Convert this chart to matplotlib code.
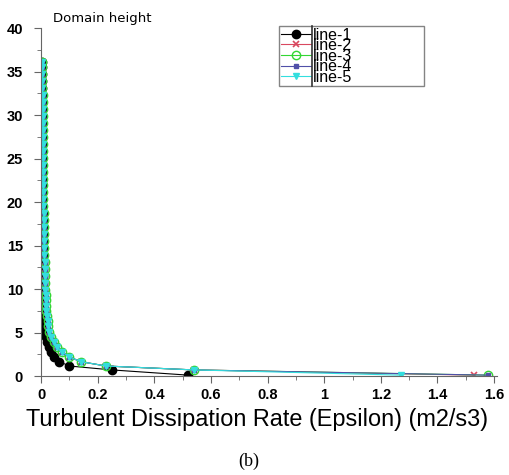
import matplotlib
matplotlib.use("Agg")
import matplotlib.pyplot as plt
from matplotlib.ticker import MultipleLocator
from matplotlib.lines import Line2D

# heights (m) of the profile points
heights = [0.1, 0.7, 1.15, 1.65, 2.2, 2.75, 3.3, 3.9, 4.5, 5.1, 5.7, 6.3, 6.9,
           7.5, 8.1, 8.7, 9.3, 9.9, 10.7, 11.5, 12.3, 13.1, 13.9, 14.7, 15.5,
           16.3, 17.1, 17.9, 18.7, 19.5, 20.3, 21.1, 21.9, 22.7, 23.5, 24.3,
           25.1, 25.9, 26.7, 27.5, 28.3, 29.1, 29.9, 30.7, 31.5, 32.3, 33.1,
           33.9, 34.7, 35.5, 36.1]

# epsilon (lines 2-5 overlap above the first point)
eps_upper = [0.54, 0.23, 0.14, 0.10, 0.075, 0.058, 0.045, 0.037, 0.030,
             0.026, 0.023, 0.021, 0.019, 0.018, 0.017, 0.016, 0.015, 0.014,
             0.0135, 0.013, 0.0125, 0.012, 0.0115, 0.011, 0.0105, 0.010,
             0.0095, 0.009, 0.0088, 0.0085, 0.0082, 0.008, 0.0077, 0.0075,
             0.0072, 0.007, 0.0068, 0.0066, 0.0064, 0.0062, 0.006, 0.0058,
             0.0056, 0.0055, 0.0054, 0.0052, 0.0051, 0.005, 0.0049, 0.0048]

line1 = [0.52, 0.25, 0.10, 0.065, 0.045, 0.035, 0.027, 0.021, 0.017, 0.014,
         0.012, 0.010, 0.0095, 0.009, 0.0085, 0.008, 0.0078, 0.0075, 0.0072,
         0.007, 0.0068, 0.0066, 0.0064, 0.0062, 0.006, 0.0058, 0.0056,
         0.0055, 0.0054, 0.0052, 0.0051, 0.005, 0.0049, 0.0048, 0.0047,
         0.0046, 0.0045, 0.0044, 0.0043, 0.0042, 0.0041, 0.004, 0.0039,
         0.0038, 0.0037, 0.0036, 0.0035, 0.0034, 0.0033, 0.0032, 0.0031]

first_points = {'line-2': 1.53, 'line-3': 1.58, 'line-4': 1.58, 'line-5': 1.27}

styles = {
    'line-1': dict(color='black', marker='o', ms=6, mfc='black', mec='black'),
    'line-2': dict(color='#d9485f', marker='x', ms=5, mew=1.2),
    'line-3': dict(color='#33d633', marker='o', ms=6, mfc='none', mew=1.0),
    'line-4': dict(color='#5050a8', marker='s', ms=3.5, mfc='#5050a8'),
    'line-5': dict(color='#33dede', marker='v', ms=5, mfc='#33dede'),
}

fig = plt.figure(figsize=(5.1, 4.75), dpi=100)
ax = fig.add_axes([0.0804, 0.2084, 0.894, 0.7326])

ax.plot(line1, heights, lw=0.8, label='line-1', **styles['line-1'])
for name in ['line-2', 'line-3', 'line-4', 'line-5']:
    xs = [first_points[name]] + eps_upper
    ax.plot(xs, heights, lw=0.8, label=name, **styles[name])

ax.set_xlim(0, 1.61)
ax.set_ylim(0, 40)
ax.xaxis.set_minor_locator(MultipleLocator(0.1))
ax.yaxis.set_major_locator(MultipleLocator(5))
ax.yaxis.set_minor_locator(MultipleLocator(2.5))
ax.set_xticks([0, 0.2, 0.4, 0.6, 0.8, 1.0, 1.2, 1.4, 1.6])
ax.set_xticklabels(['0', '0.2', '0.4', '0.6', '0.8', '1', '1.2', '1.4', '1.6'])
for s in ['top', 'right']:
    ax.spines[s].set_visible(False)
for s in ['left', 'bottom']:
    ax.spines[s].set_color('#666666')
ax.tick_params(which='major', direction='out', length=5, color='#666666',
               labelsize=10.5)
ax.tick_params(axis='y', which='major', pad=8)
ax.tick_params(which='minor', direction='out', length=3, color='#666666')
for lab in ax.get_xticklabels() + ax.get_yticklabels():
    lab.set_family('Liberation Sans')
    lab.set_fontweight('bold')

ax.set_xlabel('Turbulent Dissipation Rate (Epsilon) (m2/s3)',
              family='Liberation Sans', fontsize=16.9)
ax.xaxis.set_label_coords(0.474, -0.124)
ax.xaxis.label.set_va('center')

leg = ax.legend(loc='upper left', bbox_to_anchor=(0.522, 1.006, 0.318, 0),
                mode='expand', prop={'family': 'Liberation Sans', 'size': 11.5},
                frameon=True, fancybox=False, labelspacing=-0.28,
                handlelength=1.9, handletextpad=0.15, borderpad=0.1,
                borderaxespad=0)
leg.get_frame().set_edgecolor('#666666')
leg.get_frame().set_linewidth(1.0)
# divider between the symbols and the names
fig.canvas.draw()
bb = leg.get_window_extent().transformed(fig.transFigure.inverted())
fig.add_artist(Line2D([0.6118, 0.6118], [bb.y0, bb.y1],
                      color='#333333', lw=1.2, transform=fig.transFigure))

fig.text(0.104, 0.954, 'Domain height', family='DejaVu Sans', fontsize=9.5)
fig.text(0.488, 0.028, '(b)', family='Liberation Serif', fontsize=13,
         ha='center', va='center')

fig.savefig('out.png', dpi=100)
